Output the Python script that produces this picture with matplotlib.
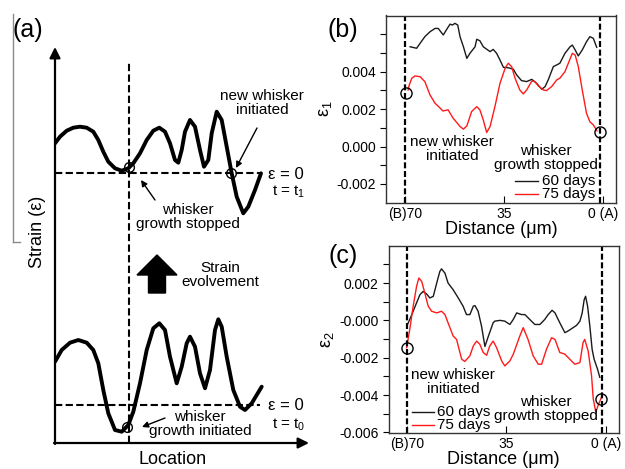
import numpy as np
import matplotlib
matplotlib.use("Agg")
import matplotlib.pyplot as plt
from matplotlib.patches import FancyArrow
from matplotlib.lines import Line2D

plt.rcParams['font.family'] = ['Liberation Sans', 'DejaVu Sans']
plt.rcParams['mathtext.fontset'] = 'custom'
plt.rcParams['mathtext.rm'] = 'Liberation Sans'
plt.rcParams['mathtext.it'] = 'Liberation Sans:italic'
plt.rcParams['mathtext.default'] = 'regular'

# ---- panel (a): schematic strain profiles (location, strain in sketch units)
loc_t1 = [0, 5, 11.7, 18.3, 25, 31.7, 38.3, 43.3, 48.3, 53.3, 60, 66.7, 73.3, 78.3, 85,
          91.7, 98.3, 104.3, 110, 115, 120, 123.3, 126.7, 130, 135, 140, 145, 149, 153.3,
          156.7, 161.7, 166.7, 171.7, 176.7, 181.7, 188.3, 193.3, 200, 206]
strain_t1 = [29.7, 36.3, 42.3, 45.3, 46.3, 45.3, 41.3, 33, 21.3, 11.3, 4.7, 2.3, 4.7, 9.7, 19.7,
             33, 42.3, 45.3, 41.3, 29.7, 13, 10.3, 23, 41.3, 53, 46.3, 23, 6.3, 13,
             39.7, 61.3, 53, 26.3, -0.3, -23.7, -40.3, -33.7, -17, -0.3]
loc_t0 = [0, 6.7, 15, 23.3, 31.7, 38.3, 43.3, 48.3, 53.3, 60, 66.7, 73.3, 78.3, 85, 91.7,
          98.3, 104.3, 110, 115, 121.7, 126.7, 131.7, 135, 140, 145, 150, 155, 160, 163.3,
          166.7, 171.7, 178.3, 185, 190, 196.7, 201.7, 206.7]
strain_t0 = [43.3, 55, 62.3, 65, 62.3, 55, 41.7, 15, -8.3, -25, -26.7, -20, -6.7, 21.7, 55,
             76.7, 81.7, 75, 48.3, 21.7, 38.3, 61.7, 68.3, 58.3, 31.7, 16.7, 35, 75, 85.7,
             78.3, 48.3, 15, -1.7, -5, 1.7, 10, 18.3]
zero_t1 = 270
zero_t0 = 38

# ---- panel (b): epsilon_1 vs distance
xb_60 = [68.1, 65.8, 64.6, 62.9, 61.1, 59.3, 58.2, 56.4, 55.2, 54.0, 53.2, 52.3, 51.3, 50.5,
         49.3, 48.1, 47.0, 45.2, 44.6, 43.5, 42.3, 39.9, 38.8, 37.6, 36.4, 35.2, 33.5, 31.7,
         30.5, 28.8, 27.0, 25.2, 23.5, 21.7, 20.5, 19.4, 17.6, 16.4, 15.3, 13.5, 11.7, 10.9,
         9.9, 8.8, 7.4, 5.9, 4.7, 3.5, 2.3]
eb_60 = [0.00533, 0.00525, 0.00551, 0.00587, 0.00613, 0.00631, 0.00631, 0.00596, 0.00626,
         0.00654, 0.00649, 0.00658, 0.00649, 0.00587, 0.00533, 0.00471, 0.00498, 0.00533,
         0.00573, 0.00565, 0.00533, 0.00507, 0.00519, 0.00498, 0.00462, 0.00423, 0.00421,
         0.00413, 0.00382, 0.00352, 0.00347, 0.00359, 0.00338, 0.00306, 0.00320, 0.00356,
         0.00427, 0.00436, 0.00445, 0.00498, 0.00533, 0.00542, 0.00516, 0.00484, 0.00516,
         0.00560, 0.00587, 0.00578, 0.00530]
xb_75 = [68.8, 68.4, 67.5, 66.4, 64.6, 62.9, 61.1, 59.3, 58.3, 56.5, 54.7, 53.0, 50.5, 49.3,
         48.1, 46.4, 44.6, 43.5, 42.3, 41.1, 39.9, 38.2, 36.4, 34.6, 33.5, 32.3, 31.1, 29.4,
         28.2, 27.0, 25.2, 24.1, 22.9, 21.1, 20.0, 18.2, 16.4, 15.3, 13.5, 12.1, 10.9, 9.9,
         8.8, 7.4, 5.9, 4.7, 3.5, 2.2]
eb_75 = [0.00302, 0.00329, 0.00365, 0.00377, 0.00373, 0.00347, 0.00276, 0.00231, 0.00217,
         0.00190, 0.00196, 0.00153, 0.00107, 0.00093, 0.00110, 0.00187, 0.00213, 0.00196,
         0.00142, 0.00075, 0.00107, 0.00213, 0.00338, 0.00418, 0.00445, 0.00427, 0.00365,
         0.00302, 0.00281, 0.00302, 0.00350, 0.00347, 0.00324, 0.00302, 0.00299, 0.00320,
         0.00356, 0.00365, 0.00400, 0.00453, 0.00498, 0.00489, 0.00427, 0.00302, 0.00178,
         0.00132, 0.00116, 0.00084]
b_circles = ([69.5, 1.2], [0.00285, 0.00077])

# ---- panel (c): epsilon_2 vs distance
xc_60 = [69.9, 69.1, 67.9, 66.7, 65.5, 64.4, 63.2, 62.0, 60.8, 59.6, 58.5, 57.9, 56.7, 55.6,
         53.8, 52.0, 50.3, 49.1, 47.9, 46.7, 46.1, 45.0, 43.8, 42.6, 41.5, 39.7, 39.1, 37.3,
         35.6, 33.8, 32.6, 31.4, 29.7, 28.5, 26.8, 25.0, 23.2, 21.5, 20.3, 18.9, 17.9, 16.2,
         14.4, 13.3, 11.5, 10.3, 9.1, 8.3, 7.6, 7.1, 6.4, 5.6, 4.8, 4.1, 2.9, 2.1]
ec_60 = [-0.00022, 0.00005, 0.00049, 0.00094, 0.00138, 0.00155, 0.00142, 0.00120, 0.00129,
         0.00200, 0.00262, 0.00276, 0.00253, 0.00200, 0.00164, 0.00120, 0.00076, 0.00031,
         0.00031, 0.00076, 0.00079, 0.00049, -0.00031, -0.00140, -0.00090, -0.00013, -0.00004,
         0.0, -0.00004, -0.00022, 0.00005, 0.00040, 0.00031, 0.00031, 0.00005, -0.00022,
         -0.00022, 0.00005, 0.00031, 0.00054, 0.00040, -0.00013, -0.00066, -0.00057, -0.00039,
         -0.00027, -0.00004, 0.00040, 0.00111, 0.00129, 0.00076, -0.00031, -0.00155,
         -0.00208, -0.00261, -0.00305]
xc_75 = [70.2, 69.1, 67.9, 66.7, 65.9, 64.9, 63.8, 62.6, 61.4, 59.6, 57.9, 56.7, 55.6, 53.8,
         52.6, 50.8, 49.7, 47.9, 46.7, 45.5, 44.4, 43.2, 42.0, 40.9, 39.7, 38.5, 36.7, 35.6,
         33.8, 32.6, 30.3, 29.1, 27.4, 25.6, 23.8, 22.6, 20.9, 19.1, 17.9, 16.2, 14.4, 12.7,
         10.9, 9.1, 8.0, 7.4, 6.2, 5.0, 4.4, 3.5, 2.7, 1.5]
ec_75 = [-0.00146, -0.00048, 0.00076, 0.00182, 0.00227, 0.00209, 0.00147, 0.00076, 0.00049,
         0.00040, 0.00049, 0.00031, -0.00013, -0.00084, -0.00102, -0.00208, -0.00220, -0.00190,
         -0.00137, -0.00111, -0.00128, -0.00172, -0.00187, -0.00137, -0.00111, -0.00146,
         -0.00217, -0.00244, -0.00217, -0.00181, -0.00084, -0.00039, -0.00102, -0.00190,
         -0.00235, -0.00235, -0.00155, -0.00093, -0.00102, -0.00172, -0.00181, -0.00208,
         -0.00235, -0.00226, -0.00119, -0.00102, -0.00164, -0.00297, -0.00421, -0.00492,
         -0.00456, -0.00412]
c_circles = ([70.2, 1.5], [-0.00146, -0.00420])

dist_ticks = [70, 35, 0]
dist_labels = ['(B)70', '35', '0 (A)']
marker_lines = [70, 1.3]

W, H = 625, 469
fig = plt.figure(figsize=(W / 100, H / 100), dpi=100)


def px(x, y):
    return (x, H - y)


def label(text, x, y, size=11, **kw):
    fig.text(x / W, 1 - y / H, text, fontsize=size, ha=kw.pop('ha', 'center'),
             va=kw.pop('va', 'center'), **kw)


def arrow(x0, y0, x1, y1):
    fig.axes[0].annotate('', xy=px(x1, y1), xycoords='figure pixels', xytext=px(x0, y0),
                         textcoords='figure pixels', annotation_clip=False,
                         arrowprops=dict(arrowstyle='-|>', color='k', lw=1.0,
                                         mutation_scale=9, shrinkA=0, shrinkB=0))


# ================= panel (a)
axa = fig.add_axes([55 / W, 1 - 443 / H, 253 / W, 395 / H])
axa.set_xlim(0, 253)
axa.set_ylim(0, 395)
axa.axis('off')
axa.plot(loc_t1, np.array(strain_t1) + zero_t1, color='k', lw=2.8,
         solid_joinstyle='round', solid_capstyle='round')
axa.plot(loc_t0, np.array(strain_t0) + zero_t0, color='k', lw=2.8,
         solid_joinstyle='round', solid_capstyle='round')
dash_a = (0, (3.5, 1.6))
axa.plot([0, 205], [zero_t1, zero_t1], color='k', lw=1.5, ls=dash_a)
axa.plot([0, 205], [zero_t0, zero_t0], color='k', lw=1.5, ls=dash_a)
axa.plot([74, 74], [0, 381], color='k', lw=1.5, ls=dash_a)
axa.plot([74, 176], [zero_t1 + 6, zero_t1], 'o', ms=7, mfc='none', mec='k', mew=1)
axa.plot([72], [zero_t0 - 21.7], 'o', ms=7, mfc='none', mec='k', mew=1)
axa.annotate('', xy=(0, 396), xytext=(0, -1), annotation_clip=False,
             arrowprops=dict(arrowstyle='-|>', color='k', lw=1.6, mutation_scale=16,
                             shrinkA=0, shrinkB=0))
axa.annotate('', xy=(254, 0), xytext=(-1, 0), annotation_clip=False,
             arrowprops=dict(arrowstyle='-|>', color='k', lw=1.6, mutation_scale=16,
                             shrinkA=0, shrinkB=0))
axa.add_patch(FancyArrow(102, 150, 0, 38, width=17, head_width=40, head_length=20,
                         length_includes_head=True, color='k'))

fig.add_artist(Line2D([12.5 / W, 12.5 / W], [1 - 14 / H, 1 - 242 / H], color='#8a8a8a', lw=1))
fig.add_artist(Line2D([12.5 / W, 20 / W], [1 - 242 / H, 1 - 242 / H], color='#8a8a8a', lw=1))

label('(a)', 28, 30, size=18)
label('new whisker\ninitiated', 262, 103, linespacing=1.05)
label('ε = 0', 268, 174, size=12, ha='left')
label('t = t$_1$', 272, 192, size=11, ha='left')
label('whisker\ngrowth stopped', 188, 217, linespacing=1.05)
label('Strain\nevolvement', 220, 275, linespacing=1.05)
label('whisker\ngrowth initiated', 200, 424, linespacing=1.05)
label('ε = 0', 268, 406, size=12, ha='left')
label('t = t$_0$', 272, 425, size=11, ha='left')
label('Location', 173, 459, size=13)
label('Strain (ε)', 38, 232, size=13, rotation=90)
arrow(257, 128, 236, 168)
arrow(155, 200, 141, 180)
arrow(165, 418, 142, 427)


# ================= panels (b) and (c)
def strain_panel(rect, x60, e60, x75, e75, circles, ylim, yticks, ylabels, ylab):
    ax = fig.add_axes(rect)
    ax.plot(x60, e60, color='#1a1a1a', lw=1.0)
    ax.plot(x75, e75, color='#ff1a1a', lw=1.0)
    for xv in marker_lines:
        ax.axvline(xv, color='k', lw=1.6, ls=(0, (2.7, 1.2)))
    ax.plot(circles[0], circles[1], 'o', ms=8, mfc='none', mec='k', mew=1, clip_on=False)
    ax.set_xlim(76.6, -4.5)
    ax.set_ylim(*ylim)
    ax.set_xticks(dist_ticks, dist_labels)
    ax.set_yticks(yticks, ylabels)
    ax.tick_params(axis='x', direction='in', length=5, pad=3, labelsize=10)
    ax.tick_params(axis='y', direction='out', length=4, pad=3, labelsize=10)
    for s in ax.spines.values():
        s.set_color('#333333')
        s.set_linewidth(1.0)
    ax.set_xlabel('Distance (μm)', fontsize=13, labelpad=0)
    ax.set_ylabel(ylab, fontsize=13, labelpad=2)
    return ax


yt_b = np.round(np.arange(-0.002, 0.0061, 0.001), 4)
lab_b = ['-0.002', '', '0.000', '', '0.002', '', '0.004', '', '']
axb = strain_panel([386 / W, 1 - 202.7 / H, 230 / W, 187.2 / H], xb_60, eb_60, xb_75, eb_75,
                   b_circles, (-0.003, 0.007), yt_b, lab_b, 'ε$_1$')
yt_c = np.round(np.arange(-0.006, 0.0031, 0.001), 4)
lab_c = ['-0.006', '', '-0.004', '', '-0.002', '', '-0.000', '', '0.002', '']
axc = strain_panel([388.5 / W, 1 - 433.3 / H, 230 / W, 187.6 / H], xc_60, ec_60, xc_75, ec_75,
                   c_circles, (-0.00605, 0.004), yt_c, lab_c, 'ε$_2$')

label('(b)', 343, 30, size=18)
label('(c)', 343, 256, size=18)

label('new whisker\ninitiated', 452, 149, linespacing=1.05)
label('whisker\ngrowth stopped', 546, 158, linespacing=1.0)
arrow(418, 127, 413, 97)
arrow(578, 137, 597, 132.5)
for yy, col, txt in [(181, '#1a1a1a', '60 days'), (193.5, '#ff1a1a', '75 days')]:
    fig.add_artist(Line2D([515 / W, 538 / W], [1 - yy / H] * 2, color=col, lw=1.0))
    label(txt, 542, yy, ha='left')

label('new whisker\ninitiated', 453, 382, linespacing=1.05)
label('whisker\ngrowth stopped', 546, 409, linespacing=1.05)
arrow(434, 365, 415, 355)
arrow(576, 402, 597, 400)
for yy, col, txt in [(411.5, '#1a1a1a', '60 days'), (425, '#ff1a1a', '75 days')]:
    fig.add_artist(Line2D([412 / W, 434 / W], [1 - yy / H] * 2, color=col, lw=1.0))
    label(txt, 437, yy, ha='left')

fig.savefig('out.png', dpi=100)
